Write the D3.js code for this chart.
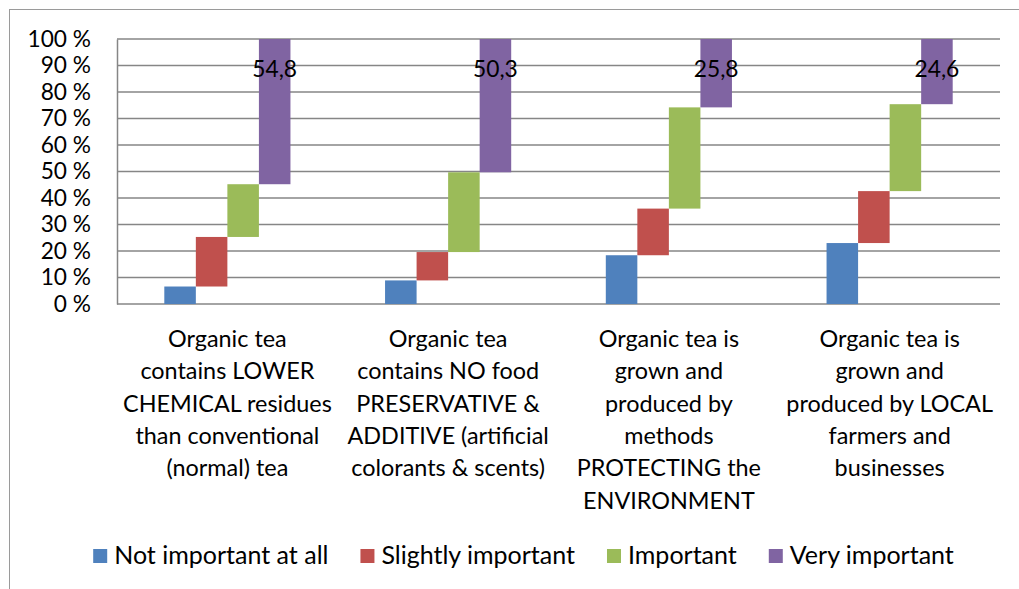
<!DOCTYPE html>
<html>
<head>
<meta charset="utf-8">
<script src="https://cdn.jsdelivr.net/npm/d3@7"></script>
<style>
  html, body { margin: 0; padding: 0; background: #fff; }
  svg { display: block; }
  text { font-family: Lato, "Open Sans", sans-serif; fill: #000; }
</style>
</head>
<body>
<svg id="chart" width="1019" height="589"></svg>
<script>
// Statements about organic tea (wrapped into the lines shown under each group)
const categories = ["LOWER CHEMICAL", "NO PRESERVATIVE", "PROTECTING ENVIRONMENT", "LOCAL"];
const categoryLines = [
  ["Organic tea", "contains LOWER", "CHEMICAL residues", "than conventional", "(normal) tea"],
  ["Organic tea", "contains NO food", "PRESERVATIVE &", "ADDITIVE (artificial", "colorants & scents)"],
  ["Organic tea is", "grown and", "produced by", "methods", "PROTECTING the", "ENVIRONMENT"],
  ["Organic tea is", "grown and", "produced by LOCAL", "farmers and", "businesses"]
];

// Importance ratings, percent of respondents
const seriesNames = ["Not important at all", "Slightly important", "Important", "Very important"];
const notImportant = [6.6, 8.9, 18.4, 23.0];
const slightlyImportant = [18.7, 10.7, 17.6, 19.6];
const important = [19.9, 30.1, 38.2, 32.8];
const veryImportant = [54.8, 50.3, 25.8, 24.6];

const yTicks = [0, 10, 20, 30, 40, 50, 60, 70, 80, 90, 100];
const colors = ["#4F81BD", "#C0504D", "#9BBB59", "#8064A2"];

const seriesValues = [notImportant, slightlyImportant, important, veryImportant];

const svg = d3.select("#chart");
const plot = { left: 117, right: 1000, top: 39, bottom: 304 };

// Outer chart frame
svg.append("rect")
  .attr("x", 9.5).attr("y", 9.5)
  .attr("width", 1040).attr("height", 600)
  .attr("fill", "none").attr("stroke", "#9a9a9a").attr("stroke-width", 1);

const y = d3.scaleLinear().domain([0, 100]).range([plot.bottom, plot.top]);
const x0 = d3.scaleBand().domain(categories).range([plot.left, plot.right]).paddingInner(0).paddingOuter(0);
const x1 = d3.scaleBand().domain(seriesNames).range([0, x0.bandwidth()]).paddingInner(0).paddingOuter(1.5);

// Gridlines
svg.append("g").selectAll("line").data(yTicks).join("line")
  .attr("x1", plot.left).attr("x2", plot.right)
  .attr("y1", d => y(d)).attr("y2", d => y(d))
  .attr("stroke", "#868686").attr("stroke-width", 1.5);

// Value axis
const yAxis = svg.append("g")
  .attr("transform", `translate(${plot.left},0)`)
  .call(d3.axisLeft(y).tickValues(yTicks).tickSize(0).tickPadding(26).tickFormat(d => d + " %"));
yAxis.select(".domain").attr("stroke", "#868686").attr("stroke-width", 1.5);
yAxis.selectAll("text")
  .style("font-family", "Lato, sans-serif")
  .attr("font-size", 22.7)
  .attr("fill", "#000");

// Floating segments: each rating starts where the previous one ended
const segments = [];
categories.forEach((c, i) => {
  let start = 0;
  seriesNames.forEach((s, j) => {
    const v = seriesValues[j][i];
    segments.push({ category: c, series: s, index: j, start: start, end: start + v, value: v });
    start += v;
  });
});

svg.append("g").selectAll("rect").data(segments).join("rect")
  .attr("x", d => x0(d.category) + x1(d.series))
  .attr("width", x1.bandwidth())
  .attr("y", d => y(d.end))
  .attr("height", d => y(d.start) - y(d.end))
  .attr("fill", d => colors[d.index]);

// Value labels on the "Very important" segments
svg.append("g").selectAll("text")
  .data(segments.filter(d => d.index === 3)).join("text")
  .attr("x", d => x0(d.category) + x1(d.series) + x1.bandwidth() / 2)
  .attr("y", d => y(d.end) + 37.5)
  .attr("text-anchor", "middle")
  .attr("font-size", 22.8)
  .text(d => d3.format(".1f")(d.value).replace(".", ","));

// Category labels
categories.forEach((c, i) => {
  const cx = x0(c) + x0.bandwidth() / 2;
  svg.append("g")
    .attr("transform", `translate(${cx},0)`)
    .selectAll("text").data(categoryLines[i]).join("text")
    .attr("x", 0)
    .attr("y", (d, k) => 347 + k * 32.3)
    .attr("text-anchor", "middle")
    .attr("font-size", 23.4)
    .text(d => d);
});

// Legend
const legend = svg.append("g");
const items = legend.selectAll("g").data(seriesNames).join("g");
items.append("rect")
  .attr("width", 14).attr("height", 14)
  .attr("y", 549)
  .attr("fill", (d, i) => colors[i]);
items.append("text")
  .attr("y", 564)
  .attr("font-size", 25)
  .text(d => d);
let cursor = 0;
items.each(function () {
  const g = d3.select(this);
  const w = g.select("text").node().getComputedTextLength();
  g.select("rect").attr("x", cursor);
  g.select("text").attr("x", cursor + 21);
  cursor += 21 + w + 32;
});
const legendWidth = cursor - 32;
legend.attr("transform", `translate(${523.5 - legendWidth / 2},0)`);
</script>
</body>
</html>
